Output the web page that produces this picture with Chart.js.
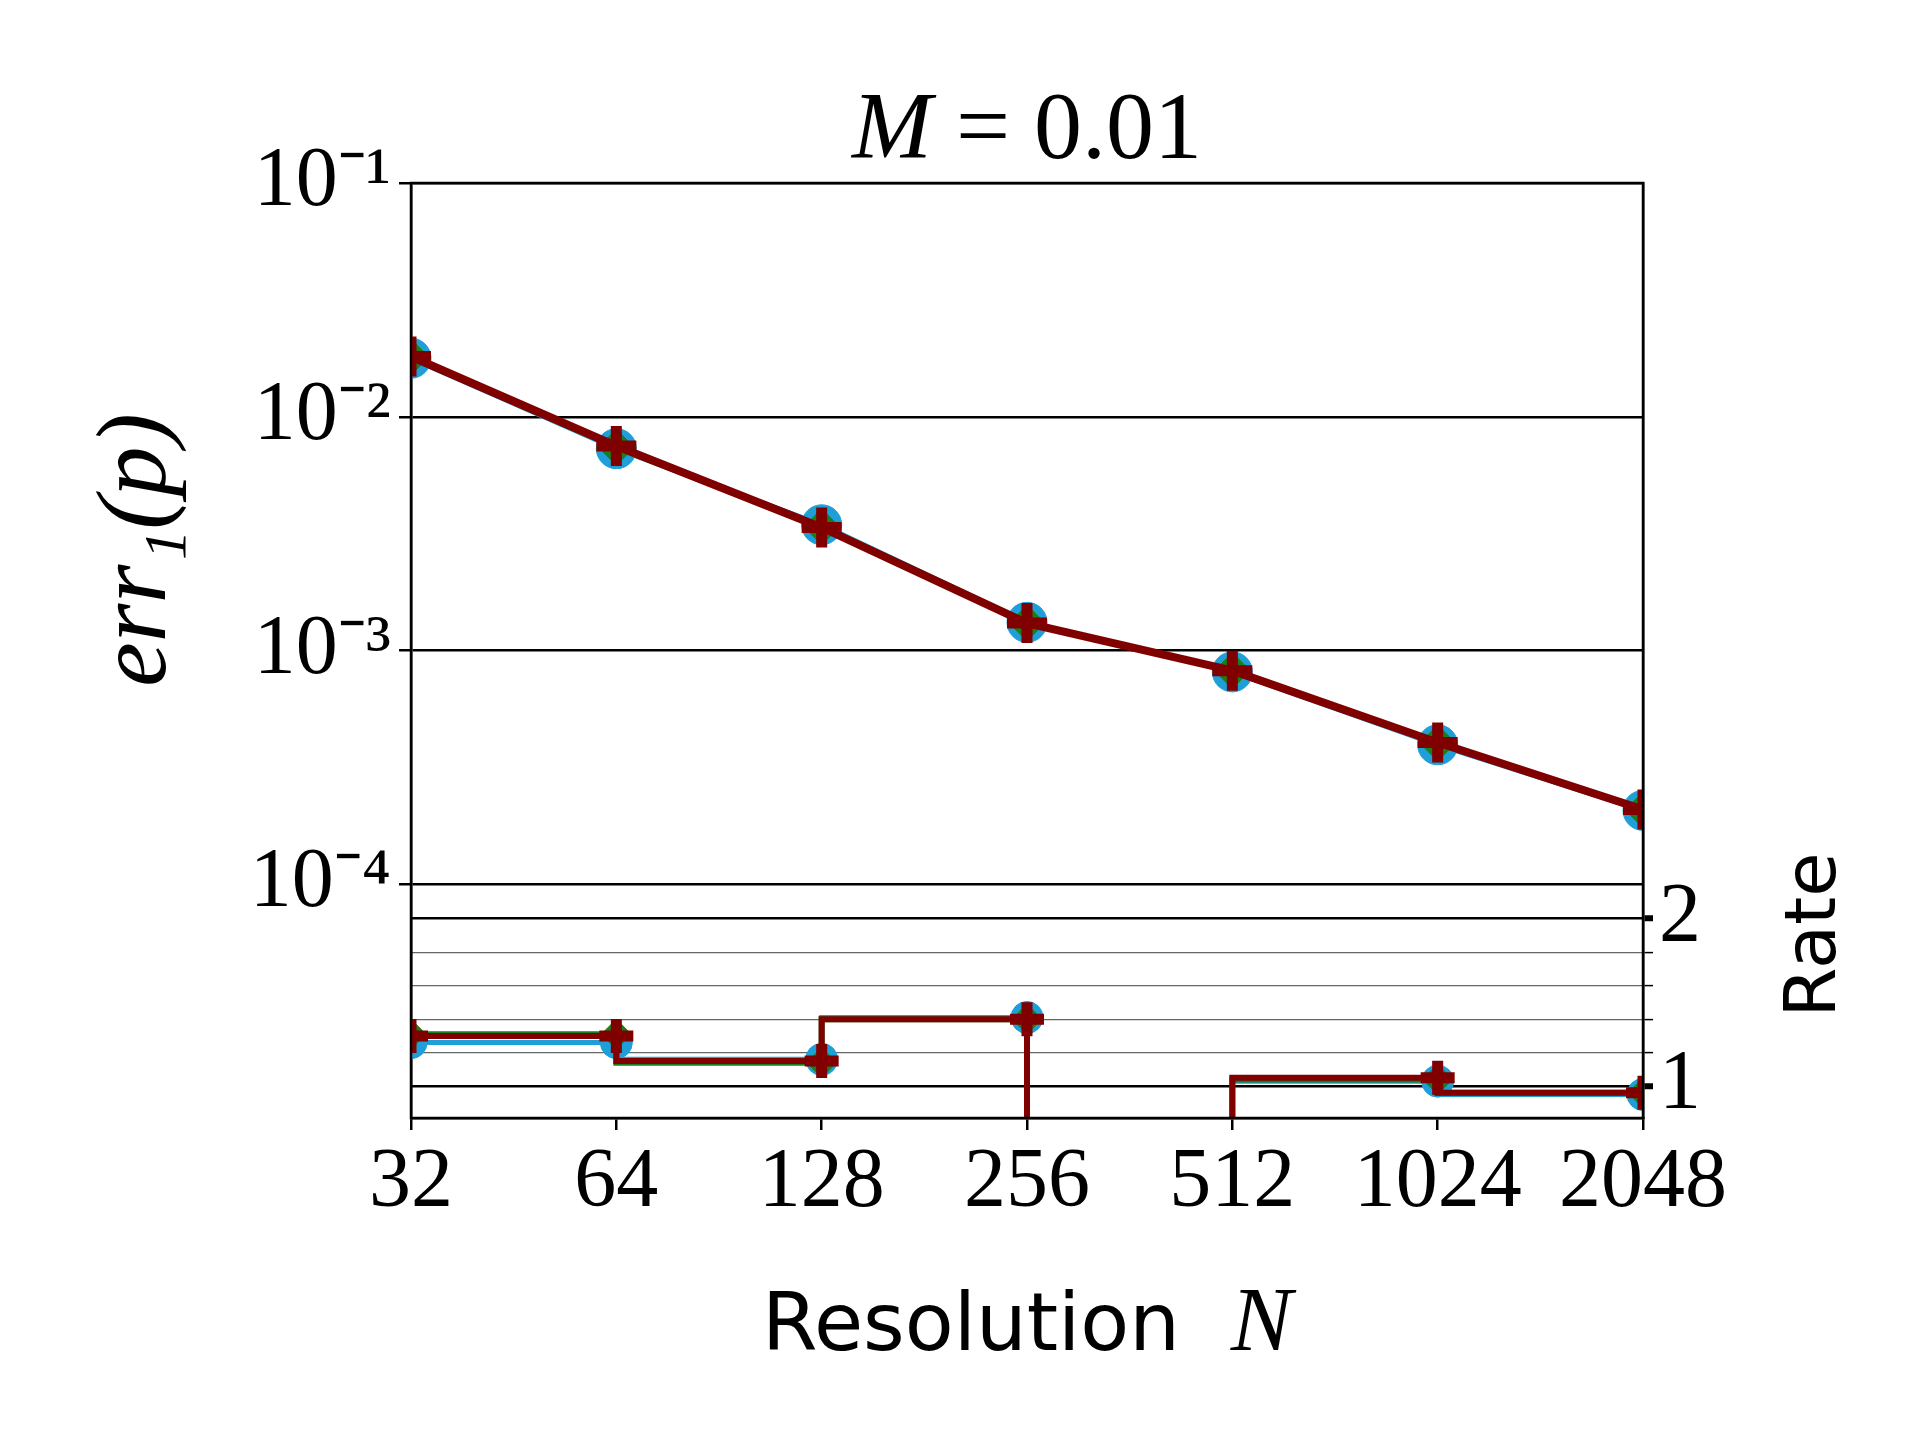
<!DOCTYPE html>
<html><head><meta charset="utf-8">
<script src="https://cdn.jsdelivr.net/npm/chart.js@4.4.1/dist/chart.umd.min.js"></script>
<style>body{margin:0;background:#fff}#wrap{width:1920px;height:1440px}</style>
</head><body><div id="wrap"><canvas id="c"></canvas></div>
<script>
const resolutions = [32, 64, 128, 256, 512, 1024, 2048];
const errBlue = [0.0178, 0.0073, 0.00345, 0.00132, 0.00081, 0.000395, 0.000207];
const errGreen = [0.0180, 0.0074, 0.00338, 0.00131, 0.00082, 0.000402, 0.000208];
const errRed = [0.0181, 0.0075, 0.00336, 0.00131, 0.00082, 0.000404, 0.000209];
const rateBlue = [1.26, 1.26, 1.16, 1.41, 0.68, 1.03, 0.95];
const rateGreen = [1.31, 1.31, 1.14, 1.40, 0.67, 1.04, 0.96];
const rateRed = [1.30, 1.30, 1.15, 1.40, 0.67, 1.05, 0.96];
const errTicks = [1e-4, 1e-3, 1e-2, 1e-1];
const rateTicks = [1, 1.2, 1.4, 1.6, 1.8, 2];

const sup = {'-': '\u207B', '1': '\u00B9', '2': '\u00B2', '3': '\u00B3', '4': '\u2074'};
const xs = resolutions.map(n => Math.log2(n));
const pts = (arr) => arr.map((v, i) => ({x: xs[i], y: v}));
const serif = '"Liberation Serif", serif';

function errSet(data, color, style, r, w) {
  return {data: pts(data), yAxisID: 'y', borderColor: color, backgroundColor: color,
    borderWidth: w, pointStyle: style, pointRadius: r, pointBorderWidth: style === 'cross' ? 11 : 1};
}
function rateSet(data, color, style, r, w) {
  return {data: pts(data), yAxisID: 'y2', stepped: 'after', borderColor: color, backgroundColor: color,
    borderWidth: w, pointStyle: style, pointRadius: r, pointBorderWidth: style === 'cross' ? 11 : 1};
}

const decor = {
  id: 'decor',
  afterDraw(chart) {
    const {ctx, chartArea: a} = chart;
    ctx.save();
    ctx.strokeStyle = '#000'; ctx.lineWidth = 2.5;
    ctx.strokeRect(a.left, a.top, a.right - a.left, a.bottom - a.top);
    ctx.fillStyle = '#000'; ctx.textBaseline = 'alphabetic';
    ctx.textAlign = 'left';
    ctx.font = 'italic 96px ' + serif;
    const t1 = 'M', t2 = ' = 0.01';
    const w1 = ctx.measureText(t1).width;
    ctx.font = '96px ' + serif;
    const w2 = ctx.measureText(t2).width;
    let x0 = (a.left + a.right) / 2 - (w1 + w2) / 2;
    ctx.font = 'italic 96px ' + serif; ctx.fillText(t1, x0, 158);
    ctx.font = '96px ' + serif; ctx.fillText(t2, x0 + w1, 158);
    ctx.font = '80px "DejaVu Sans", sans-serif';
    const xl = 'Resolution  ';
    const wx = ctx.measureText(xl).width;
    ctx.font = 'italic 92px ' + serif;
    const wn = ctx.measureText('N').width;
    x0 = (a.left + a.right) / 2 - (wx + wn) / 2;
    ctx.font = '80px "DejaVu Sans", sans-serif'; ctx.fillText(xl, x0, 1350);
    ctx.font = 'italic 92px ' + serif; ctx.fillText('N', x0 + wx, 1350);
    ctx.translate(165, 550); ctx.rotate(-Math.PI / 2);
    ctx.textAlign = 'center';
    ctx.font = 'italic 100px ' + serif;
    ctx.fillText('err\u2081(p)', 0, 0);
    ctx.restore();
    ctx.save();
    ctx.translate(1835, 935); ctx.rotate(-Math.PI / 2);
    ctx.textAlign = 'center'; ctx.fillStyle = '#000';
    ctx.font = '72px "DejaVu Sans", sans-serif';
    ctx.fillText('Rate', 0, 0);
    ctx.restore();
  }
};

new Chart(document.getElementById('c'), {
  type: 'line',
  data: {datasets: [
    errSet(errRed, '#800000', 'cross', 20, 8),
    rateSet(rateRed, '#800000', 'cross', 17, 6),
    errSet(errGreen, '#1a7f1a', 'rectRot', 18, 6),
    rateSet(rateGreen, '#1a7f1a', 'rectRot', 15, 6),
    errSet(errBlue, '#1f9fd8', 'circle', 20, 5),
    rateSet(rateBlue, '#1f9fd8', 'circle', 16, 5),
  ]},
  options: {
    responsive: true, maintainAspectRatio: false, animation: false,
    devicePixelRatio: 1,
    layout: {padding: {top: 183, left: 0, right: 0, bottom: 0}},
    plugins: {legend: {display: false}, tooltip: {enabled: false}},
    scales: {
      x: {
        type: 'linear', min: 5, max: 11,
        afterBuildTicks: s => { s.ticks = xs.map(v => ({value: v})); },
        afterFit: s => { s.height = 322; },
        grid: {drawOnChartArea: false, tickLength: 12, color: '#000', lineWidth: 2.5},
        border: {color: '#000', width: 2.5},
        ticks: {color: '#000', font: {family: serif, size: 84}, padding: 4,
          maxRotation: 0, callback: v => String(Math.round(Math.pow(2, v)))}
      },
      y: {
        type: 'logarithmic', position: 'left', min: 1e-5, max: 1e-1,
        afterBuildTicks: s => { s.ticks = errTicks.map(v => ({value: v})); },
        afterFit: s => { s.width = 411; },
        grid: {color: '#000', lineWidth: 2.5, tickLength: 12},
        border: {color: '#000', width: 2.5},
        ticks: {color: '#000', font: {family: serif, size: 84}, padding: 8,
          callback: v => '10' + String(Math.round(Math.log10(v))).split('').map(c => sup[c]).join('')}
      },
      y2: {
        type: 'linear', position: 'right', min: 0.81, max: 6.39,
        afterBuildTicks: s => { s.ticks = rateTicks.map(v => ({value: v})); },
        afterFit: s => { s.width = 277; },
        grid: {
          color: c => (c.tick && (c.tick.value === 1 || c.tick.value === 2)) ? '#000' : '#666',
          lineWidth: c => (c.tick && (c.tick.value === 1 || c.tick.value === 2)) ? 2.5 : 1.2,
          tickLength: c => (c.tick && (c.tick.value === 1 || c.tick.value === 2)) ? 20 : 10,
          tickWidth: c => (c.tick && (c.tick.value === 1 || c.tick.value === 2)) ? 6 : 1.5,
          tickColor: '#000'
        },
        border: {color: '#000', width: 2.5},
        ticks: {color: '#000', font: {family: serif, size: 84}, padding: 6, autoSkip: false,
          callback: v => (v === 1 || v === 2) ? String(v) : ''}
      }
    }
  },
  plugins: [decor]
});
</script></body></html>
